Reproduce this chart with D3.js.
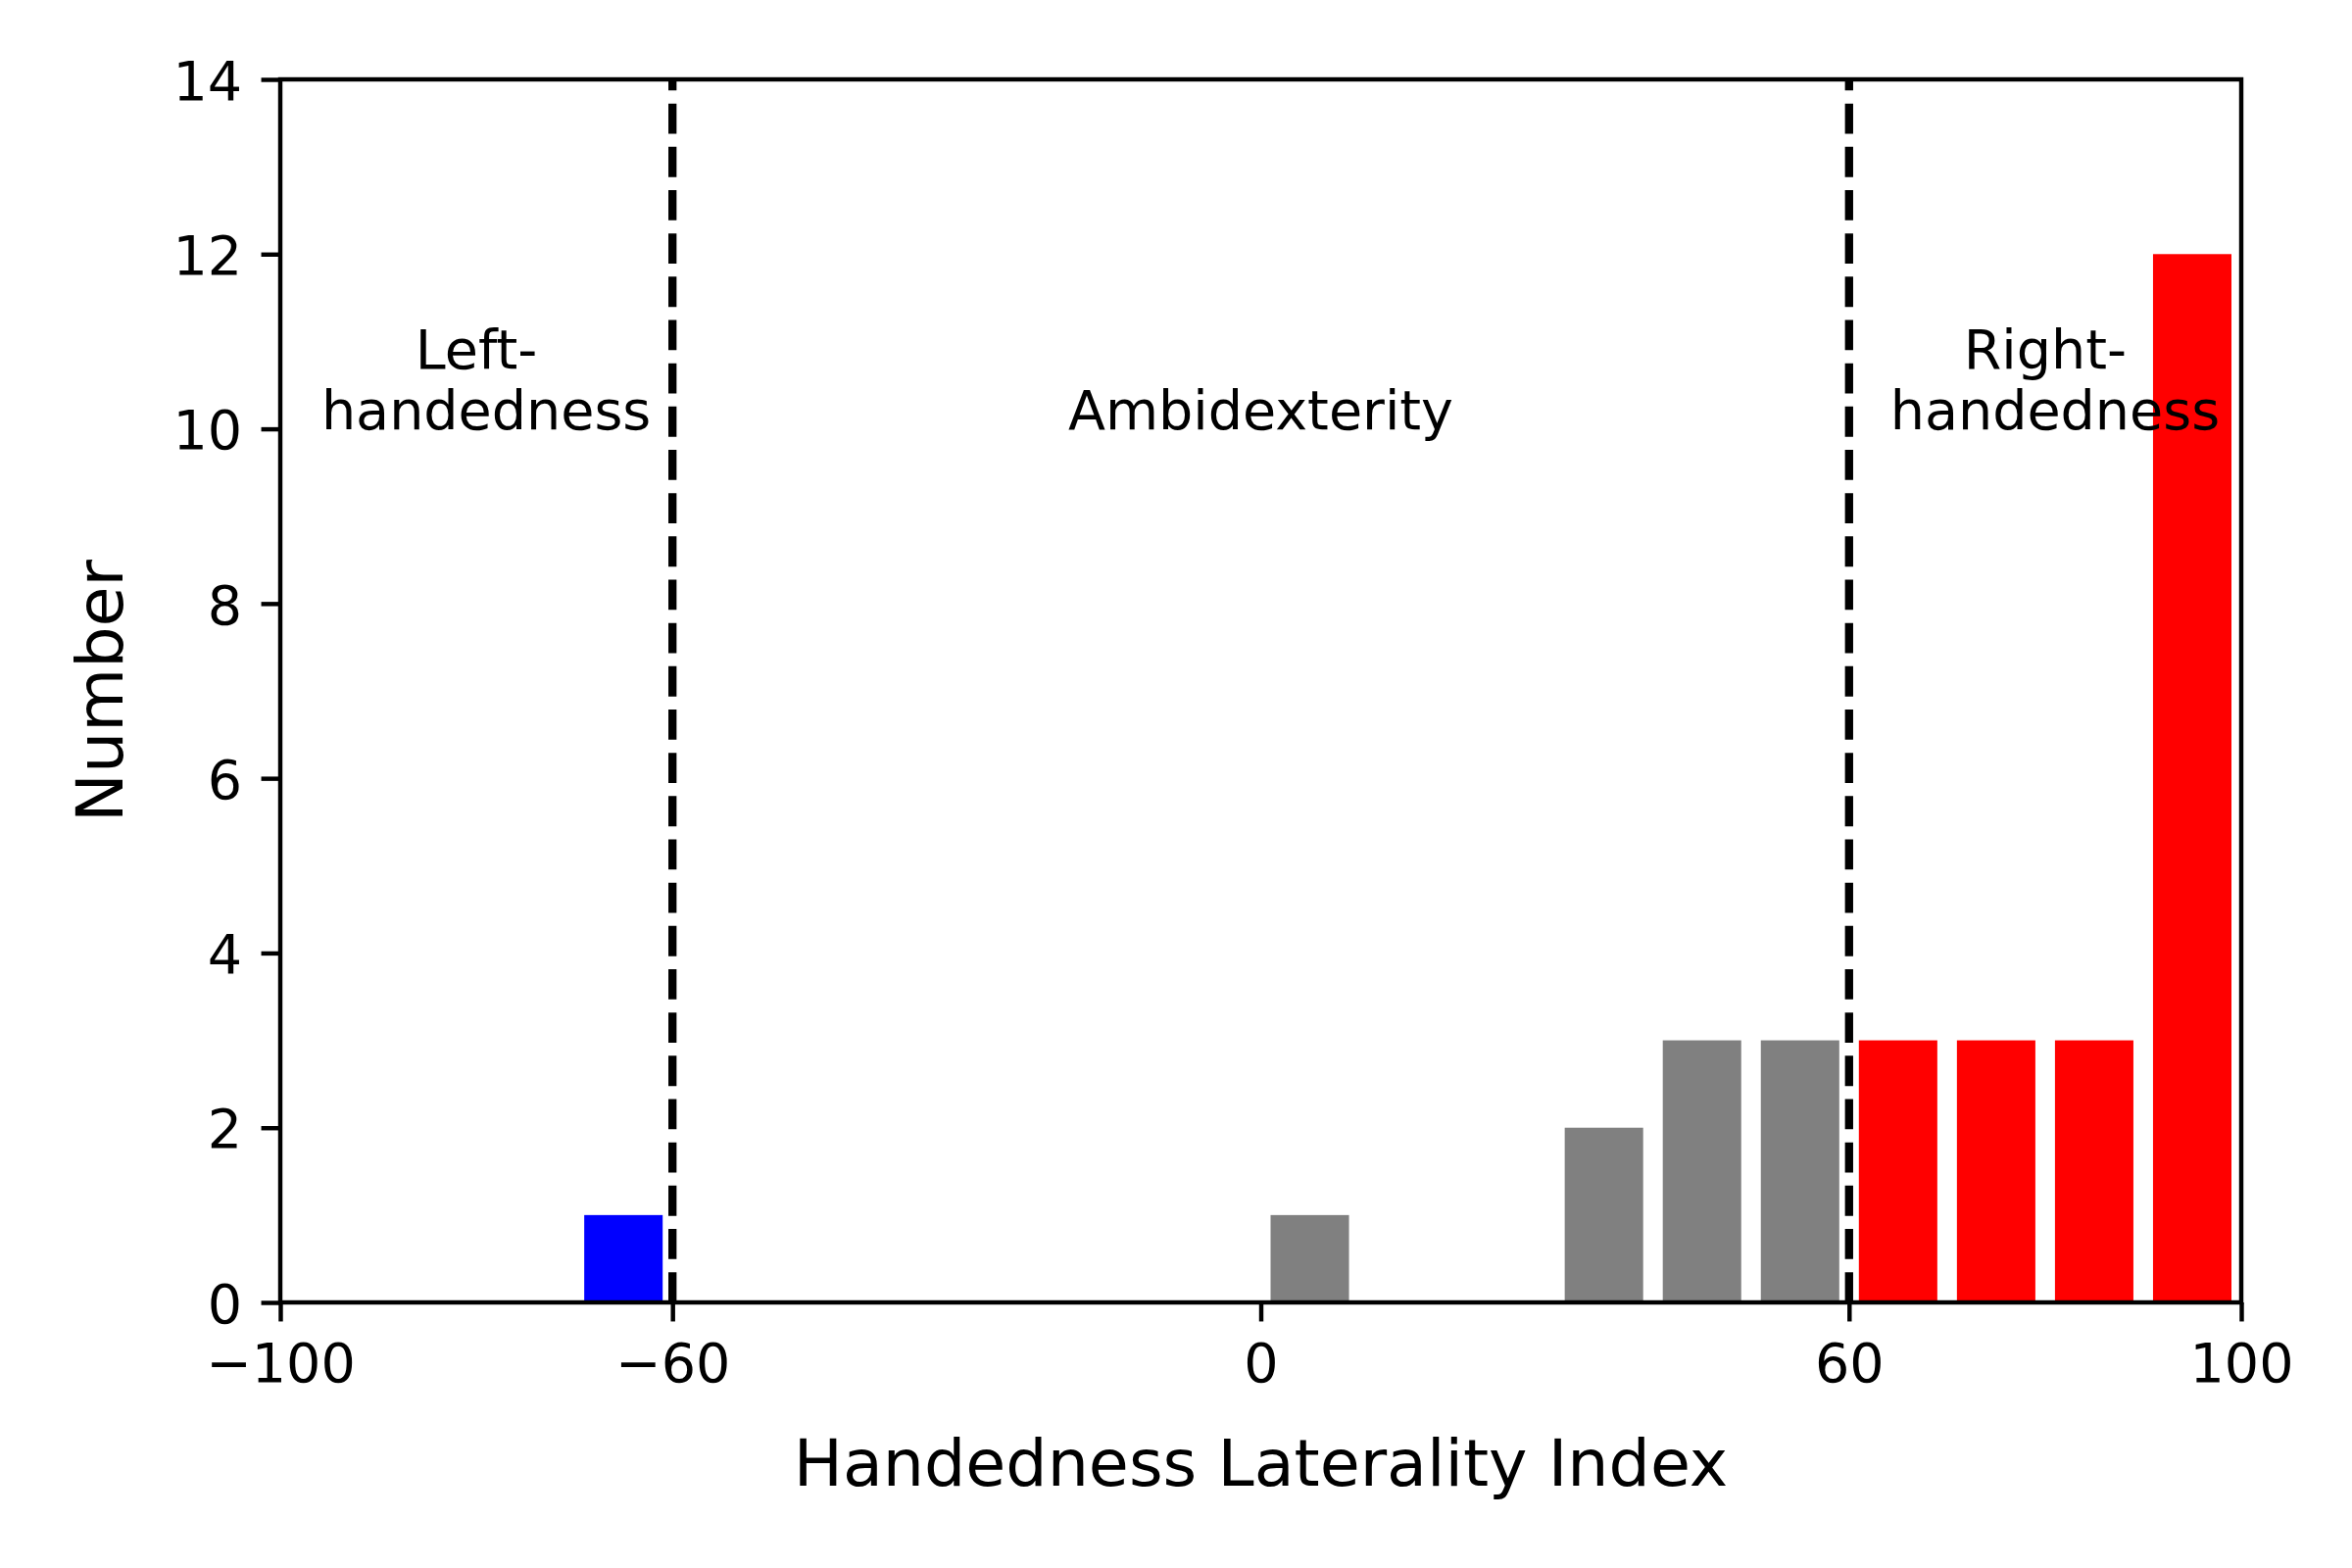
<!DOCTYPE html>
<html>
<head>
<meta charset="utf-8">
<script src="https://cdn.jsdelivr.net/npm/d3@7"></script>
<style>
  body { margin: 0; background: #fff; }
  text { font-family: "DejaVu Sans", sans-serif; fill: #000; }
</style>
</head>
<body>
<div id="chart"></div>
<script>
// histogram bins (lower edge, width 10) and their counts
var binStart = [-100, -90, -80, -70, -60, -50, -40, -30, -20, -10, 0, 10, 20, 30, 40, 50, 60, 70, 80, 90];
var counts   = [0, 0, 0, 1, 0, 0, 0, 0, 0, 0, 1, 0, 0, 2, 3, 3, 3, 3, 3, 12];
// cut-offs between the three groups
var cutoffs = [-60, 60];
var xTicks = [-100, -60, 0, 60, 100];
var yTicks = [0, 2, 4, 6, 8, 10, 12, 14];
var regions = [
    { x: -79, lines: ["Left-", "handedness"] },
    { x: 0, lines: ["Ambidexterity"] },
    { x: 81, lines: ["Right-", "handedness"] }
];

var binWidth = 10;
var rwidth = 0.8;

var width = 2400;
var height = 1600;
var margin = { top: 81, right: 113, bottom: 271, left: 286 };
var pt = 400 / 72;   // figure was drawn at 400 dpi

var x = d3.scaleLinear().domain([-100, 100]).range([margin.left, width - margin.right]);
var y = d3.scaleLinear().domain([0, 14]).range([height - margin.bottom, margin.top]);

var colour = function (start) {
    if (start < cutoffs[0]) return "#0000ff";
    if (start >= cutoffs[1]) return "#ff0000";
    return "#808080";
};

var svg = d3.select("#chart")
    .append("svg")
    .attr("width", width)
    .attr("height", height);

var data = binStart.map(function (d, i) { return { start: d, count: counts[i] }; });

svg.append("g")
    .selectAll("rect")
    .data(data.filter(function (d) { return d.count > 0; }))
    .enter()
    .append("rect")
    .attr("x", function (d) { return x(d.start + binWidth * (1 - rwidth) / 2); })
    .attr("width", function (d) { return x(d.start + binWidth * (1 + rwidth) / 2) - x(d.start + binWidth * (1 - rwidth) / 2); })
    .attr("y", function (d) { return y(d.count); })
    .attr("height", function (d) { return y(0) - y(d.count); })
    .style("fill", function (d) { return colour(d.start); });

// dashed group boundaries, drawn from bottom up like axvline
svg.append("g")
    .selectAll("path")
    .data(cutoffs)
    .enter()
    .append("path")
    .attr("d", function (d) { return "M" + x(d) + "," + y(0) + "V" + y(14); })
    .style("stroke", "#000")
    .style("stroke-width", 1.5 * pt)
    .style("stroke-dasharray", (3.7 * 1.5 * pt) + "," + (1.6 * 1.5 * pt))
    .style("fill", "none");

// region labels, last line sits on y = 10
var regionG = svg.append("g")
    .selectAll("text")
    .data(regions)
    .enter()
    .append("text")
    .attr("text-anchor", "middle")
    .style("font-size", (10 * pt) + "px");

regionG.each(function (r) {
    var t = d3.select(this);
    var n = r.lines.length;
    r.lines.forEach(function (line, i) {
        t.append("tspan")
            .attr("x", x(r.x) + (n > 1 && i < n - 1 ? -10 : 0))
            .attr("y", y(10) - (n - 1 - i) * 62)
            .text(line);
    });
});

var fmt = function (d) { return d < 0 ? "\u2212" + Math.abs(d) : String(d); };

var xAxis = svg.append("g")
    .attr("transform", "translate(0," + y(0) + ")")
    .call(d3.axisBottom(x).tickValues(xTicks).tickFormat(fmt)
        .tickSize(3.5 * pt).tickSizeOuter(0).tickPadding(3.5 * pt + 2.5));

var yAxis = svg.append("g")
    .attr("transform", "translate(" + x(-100) + ",0)")
    .call(d3.axisLeft(y).tickValues(yTicks).tickFormat(fmt)
        .tickSize(3.5 * pt).tickSizeOuter(0).tickPadding(3.5 * pt));

[xAxis, yAxis].forEach(function (g) {
    g.select(".domain").remove();
    g.selectAll(".tick line").style("stroke", "#000").style("stroke-width", 0.8 * pt);
    g.selectAll(".tick text")
        .style("font-family", "'DejaVu Sans', sans-serif")
        .style("font-size", (10 * pt) + "px")
        .style("fill", "#000");
});
yAxis.selectAll(".tick text").attr("dy", "0.365em");

// frame
svg.append("rect")
    .attr("x", x(-100))
    .attr("y", y(14))
    .attr("width", x(100) - x(-100))
    .attr("height", y(0) - y(14))
    .style("fill", "none")
    .style("stroke", "#000")
    .style("stroke-width", 0.8 * pt)
    .style("stroke-linecap", "square");

svg.append("text")
    .attr("x", (x(-100) + x(100)) / 2)
    .attr("y", 1516)
    .attr("text-anchor", "middle")
    .style("font-size", (12 * pt) + "px")
    .text("Handedness Laterality Index");

svg.append("text")
    .attr("transform", "translate(125," + ((y(0) + y(14)) / 2) + ") rotate(-90)")
    .attr("text-anchor", "middle")
    .style("font-size", (12 * pt) + "px")
    .text("Number");
</script>
</body>
</html>
